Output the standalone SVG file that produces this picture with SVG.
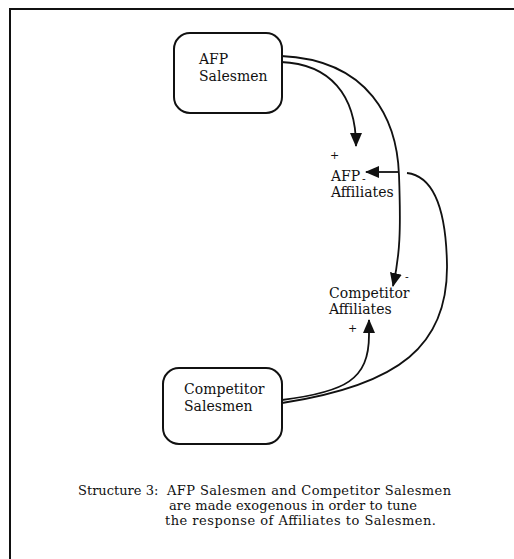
<svg xmlns="http://www.w3.org/2000/svg" width="514" height="559" viewBox="0 0 514 559">
<style>
  .t{font-family:"DejaVu Serif","Liberation Serif",serif;font-size:14px;fill:#111}
  .c{font-family:"DejaVu Serif","Liberation Serif",serif;font-size:13px;fill:#111}
  .s{font-family:"DejaVu Serif","Liberation Serif",serif;font-size:11px;fill:#111}
  .box{fill:#fff;stroke:#111;stroke-width:2}
  .ln{fill:none;stroke:#111;stroke-width:1.8}
</style>
<defs>
  <marker id="ah" markerUnits="userSpaceOnUse" markerWidth="14" markerHeight="12" refX="13" refY="6" orient="auto">
    <path d="M0,0 L14,6 L0,12 Z" fill="#111"/>
  </marker>
</defs>
<rect width="514" height="559" fill="#fff"/>
<path d="M10,559 L10,9 L514,9" fill="none" stroke="#111" stroke-width="2"/>

<g id="connectors">
  <path class="ln" d="M281,62 C330,64 356,95 356,146" marker-end="url(#ah)"/>
  <path class="ln" d="M281,56 C370,60 397,120 399,175 C401,230 400,255 393,286" marker-end="url(#ah)"/>
  <path class="ln" d="M282,403 C400,385 448,345 447,265 C446,205 432,176 407,173"/>
  <path class="ln" d="M398,172 L366,172" marker-end="url(#ah)"/>
  <path class="ln" d="M282,400 C345,392 369,380 369,335 L369,320" marker-end="url(#ah)"/>
</g>

<g id="afp-salesmen">
  <rect class="box" x="174" y="33" width="108" height="80" rx="16"/>
  <text class="t" x="199" y="64">AFP</text>
  <text class="t" x="199" y="81">Salesmen</text>
</g>

<g id="afp-affiliates">
  <text class="s" x="330" y="159">+</text>
  <text class="t" x="331" y="181">AFP</text>
  <text class="s" x="362" y="183">-</text>
  <text class="t" x="331" y="197">Affiliates</text>
</g>

<g id="competitor-affiliates">
  <text class="s" x="405" y="281">-</text>
  <text class="t" x="329" y="298">Competitor</text>
  <text class="t" x="329" y="314">Affiliates</text>
  <text class="s" x="348" y="332">+</text>
</g>

<g id="competitor-salesmen">
  <rect class="box" x="163" y="368" width="119" height="76" rx="16"/>
  <text class="t" x="184" y="394">Competitor</text>
  <text class="t" x="184" y="411">Salesmen</text>
</g>

<g id="caption">
  <text class="c" x="78" y="495">Structure 3:</text>
  <text class="c" x="167" y="495" textLength="284">AFP Salesmen and Competitor Salesmen</text>
  <text class="c" x="169" y="510" textLength="248">are made exogenous in order to tune</text>
  <text class="c" x="165" y="525" textLength="271">the response of Affiliates to Salesmen.</text>
</g>
</svg>
